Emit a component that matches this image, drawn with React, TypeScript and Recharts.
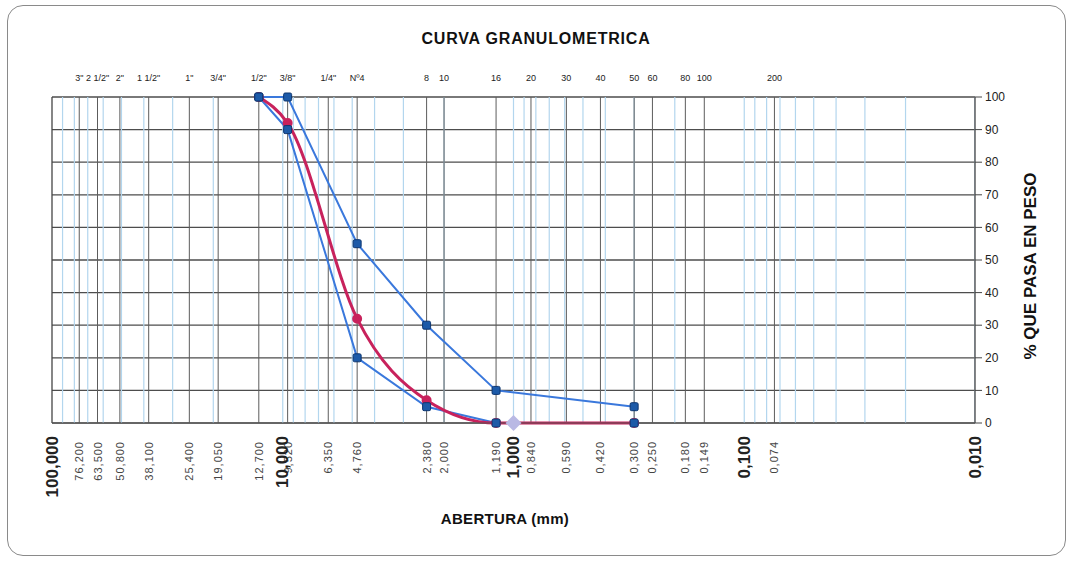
import { ComposedChart, Line, Scatter, XAxis, YAxis, CartesianGrid, ReferenceLine } from 'recharts';

// sieve openings (mm) and their names on the top axis
const sieveSizes = [76.2, 63.5, 50.8, 38.1, 25.4, 19.05, 12.7, 9.525, 6.35, 4.76, 2.38, 2.0, 1.19, 0.84, 0.59, 0.42, 0.3, 0.25, 0.18, 0.149, 0.074];
const sieveNames = ['3"', '2 1/2"', '2"', '1 1/2"', '1"', '3/4"', '1/2"', '3/8"', '1/4"', 'Nº4', '8', '10', '16', '20', '30', '40', '50', '60', '80', '100', '200'];
const bottomLabels = ['76,200', '63,500', '50,800', '38,100', '25,400', '19,050', '12,700', '9,520', '6,350', '4,760', '2,380', '2,000', '1,190', '0,840', '0,590', '0,420', '0,300', '0,250', '0,180', '0,149', '0,074'];
const decades = [100, 10, 1, 0.1, 0.01];
const decadeLabels = ['100,000', '10,000', '1,000', '0,100', '0,010'];
const percentTicks = [0, 10, 20, 30, 40, 50, 60, 70, 80, 90, 100];

// measured points
const testSizes = [12.7, 9.525, 4.76, 2.38, 1.19, 0.3];
const upperLimit = [100, 100, 55, 30, 10, 5];
const lowerLimit = [100, 90, 20, 5, 0, 0];
const sample = [100, 92, 32, 7, 0, 0];
const extraSizes = [1.0];
const extraValues = [0];

const rows = testSizes.map((size, i) => ({
  size,
  upper: upperLimit[i],
  lower: lowerLimit[i],
  sample: sample[i],
}));
const extraRows = extraSizes.map((size, i) => ({ size, extra: extraValues[i] }));

// light log grid 1..9 per decade
const minorGrid: number[] = [];
[0.01, 0.1, 1, 10].forEach(d => {
  for (let k = 1; k <= 9; k++) minorGrid.push(+(d * k).toPrecision(3));
});

const FONT = '"Liberation Sans", Arial, sans-serif';
const BLUE = '#3a78dc';
const RED = '#c8225c';

const TopTick = (props: any) => {
  const { x, y, payload } = props;
  const i = sieveSizes.indexOf(payload.value);
  return (
    <text x={x} y={y - 8} textAnchor="middle" fontSize={9} fontFamily={FONT} fill="#222">
      {sieveNames[i]}
    </text>
  );
};

const BottomTick = (props: any) => {
  const { x, y, payload } = props;
  const d = decades.indexOf(payload.value);
  const big = d >= 0;
  const label = big ? decadeLabels[d] : bottomLabels[sieveSizes.indexOf(payload.value)];
  return (
    <text
      transform={`translate(${x},${y + (big ? 5 : 10)}) rotate(-90)`}
      textAnchor="end"
      dominantBaseline="central"
      fontSize={big ? 17 : 11}
      fontWeight={big ? 'bold' : 'normal'}
      letterSpacing={big ? 0 : 1}
      fontFamily={FONT}
      fill={big ? '#222' : '#444'}
    >
      {label}
    </text>
  );
};

const SquareDot = (props: any) => {
  const { cx, cy } = props;
  if (cx == null || cy == null) return <g />;
  return <rect x={cx - 4} y={cy - 4} width={8} height={8} rx={1.5} fill="#1c5aa8" stroke="#0d3670" strokeWidth={1} />;
};

const Diamond = (props: any) => {
  const { cx, cy } = props;
  if (cx == null || cy == null) return <g />;
  return <path d={`M${cx},${cy - 8} L${cx + 8},${cy} L${cx},${cy + 8} L${cx - 8},${cy} Z`} fill="#b9b9e4" />;
};

export default function App() {
  return (
    <div style={{ position: 'absolute', left: 0, top: 0, width: 1072, height: 562, background: '#fff', fontFamily: FONT }}>
      <div
        style={{
          position: 'absolute', left: 7, top: 5, width: 1059, height: 551,
          border: '1.5px solid #8a8a8a', borderRadius: 16, boxSizing: 'border-box',
        }}
      />
      <div style={{ position: 'absolute', left: 0, width: 1072, top: 30, textAlign: 'center', fontSize: 16, fontWeight: 'bold', letterSpacing: 0.8, color: '#111' }}>
        CURVA GRANULOMETRICA
      </div>
      <div style={{ position: 'absolute', left: 405, width: 200, top: 510, textAlign: 'center', fontSize: 15, fontWeight: 'bold', letterSpacing: 0.3, color: '#111' }}>
        ABERTURA (mm)
      </div>
      <div
        style={{
          position: 'absolute', left: 1031, top: 266, transform: 'translate(-50%,-50%) rotate(-90deg)',
          whiteSpace: 'nowrap', fontSize: 17, fontWeight: 'bold', color: '#111',
        }}
      >
        % QUE PASA EN PESO
      </div>
      <div style={{ position: 'absolute', left: 0, top: 0 }}>
        <ComposedChart width={1072} height={562} data={rows} margin={{ top: 67, right: 52, bottom: 54, left: 52 }}>
          <CartesianGrid vertical={false} stroke="#4d4d4d" strokeWidth={1.3} xAxisId="bottom" />
          <XAxis
            xAxisId="top"
            orientation="top"
            dataKey="size"
            type="number"
            scale="log"
            domain={[0.01, 100]}
            allowDataOverflow
            reversed
            ticks={sieveSizes}
            interval={0}
            height={30}
            axisLine={false}
            tickLine={false}
            tick={TopTick}
          />
          <XAxis
            xAxisId="bottom"
            dataKey="size"
            type="number"
            scale="log"
            domain={[0.01, 100]}
            allowDataOverflow
            reversed
            ticks={[...sieveSizes, ...decades]}
            interval={0}
            height={85}
            axisLine={{ stroke: '#555' }}
            tickLine={false}
            tick={BottomTick}
          />
          <YAxis
            orientation="right"
            type="number"
            domain={[0, 100]}
            ticks={percentTicks}
            interval={0}
            width={45}
            axisLine={{ stroke: '#444', strokeWidth: 1.3 }}
            tickLine={{ stroke: '#444' }}
            tickSize={7}
            tickMargin={3}
            tick={{ fontSize: 12, fill: '#222', fontFamily: FONT }}
          />
          {minorGrid.map(v => (
            <ReferenceLine key={'m' + v} xAxisId="bottom" x={v} stroke="#b3d6ee" strokeWidth={1.2} ifOverflow="hidden" />
          ))}
          {sieveSizes.map(v => (
            <ReferenceLine key={'s' + v} xAxisId="bottom" x={v} stroke="#5c5c5c" strokeWidth={1} />
          ))}
          <ReferenceLine xAxisId="bottom" x={100} stroke="#444" strokeWidth={1.3} />
          <Line xAxisId="bottom" dataKey="lower" stroke={BLUE} strokeWidth={2} dot={false} isAnimationActive={false} />
          <Line xAxisId="bottom" dataKey="upper" stroke={BLUE} strokeWidth={2} dot={false} isAnimationActive={false} />
          <Line
            xAxisId="bottom"
            dataKey="sample"
            type="monotone"
            stroke={RED}
            strokeWidth={3}
            dot={{ r: 3.5, fill: RED, stroke: RED }}
            isAnimationActive={false}
          />
          <Scatter xAxisId="bottom" dataKey="lower" shape={SquareDot} isAnimationActive={false} />
          <Scatter xAxisId="bottom" dataKey="upper" shape={SquareDot} isAnimationActive={false} />
          <Scatter xAxisId="bottom" data={extraRows} dataKey="extra" shape={Diamond} isAnimationActive={false} />
        </ComposedChart>
      </div>
    </div>
  );
}
